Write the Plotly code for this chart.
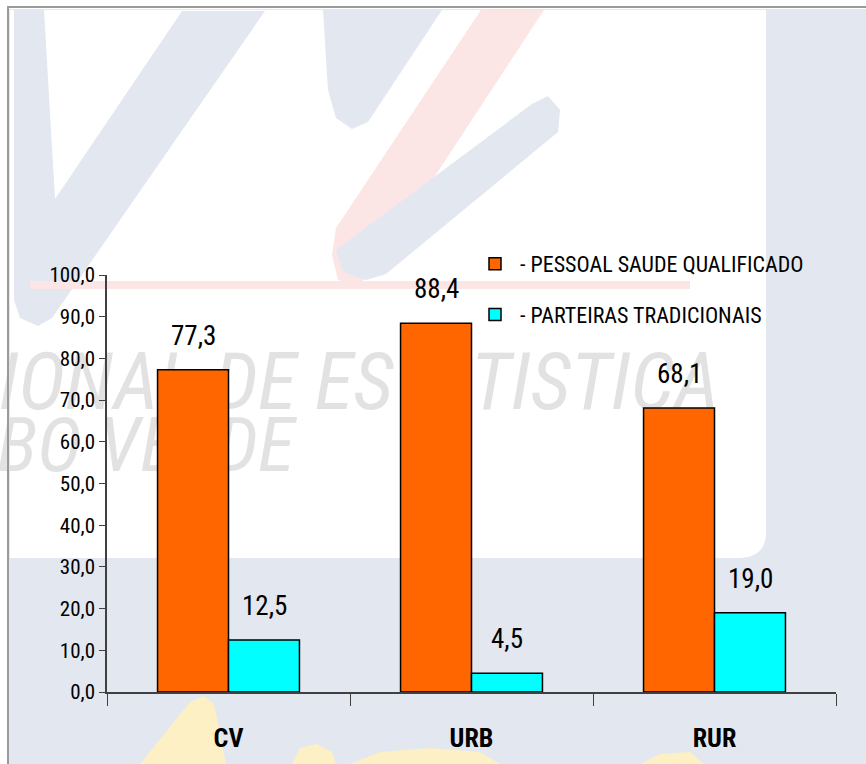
'''
    Bar chart: assistance at birth by type of assistant (CV / URB / RUR),
    drawn over a faint INE Cabo Verde style watermark.
'''

import plotly.graph_objects as go

categories = ['CV', 'URB', 'RUR']
pessoal_saude = [77.3, 88.4, 68.1]
parteiras = [12.5, 4.5, 19.0]
series_names = [' - PESSOAL SAUDE QUALIFICADO', ' - PARTEIRAS TRADICIONAIS']
y_ticks = [0, 10, 20, 30, 40, 50, 60, 70, 80, 90, 100]

FONT = 'Roboto Condensed, Liberation Sans Narrow, Arial Narrow, sans-serif'
W, H = 866, 764
L, R, T, B = 107, 30, 275, 72
BLUISH = '#e3e7f0'


def px(x):
    # pixel column -> paper x
    return (x - L) / (W - L - R)


def py(y):
    # pixel row -> paper y
    return (H - B - y) / (H - T - B)


def path(points):
    return 'M ' + ' L '.join(f'{px(x):.4f},{py(y):.4f}' for x, y in points) + ' Z'


def bg_shape(points, color):
    return dict(type='path', xref='paper', yref='paper', path=path(points),
                fillcolor=color, line=dict(width=0), layer='below')


def text_shape(text, x0, y0, x1, y1, size):
    return dict(type='rect', xref='paper', yref='paper',
                x0=px(x0), y0=py(y1), x1=px(x1), y1=py(y0),
                line=dict(width=0), fillcolor='rgba(0,0,0,0)', layer='below',
                label=dict(text=text, textposition='middle left', padding=0,
                           font=dict(family=FONT, size=size, color='#e2e2e2',
                                     style='italic', weight='normal')))


fig = go.Figure()
fig.add_trace(go.Bar(name=series_names[0], x=categories, y=pessoal_saude,
                     marker=dict(color='#ff6600', line=dict(color='black', width=1.5)),
                     legendgroup='a'))
fig.add_trace(go.Bar(name=series_names[1], x=categories, y=parteiras,
                     marker=dict(color='#00ffff', line=dict(color='black', width=1.5)),
                     legendgroup='b'))

# value labels above the bars
annotations = []
for values, shift in [(pessoal_saude, -35.5), (parteiras, 35.5)]:
    for cat, v in zip(categories, values):
        annotations.append(dict(x=cat, y=v, text=f'{v:.1f}'.replace('.', ','),
                                showarrow=False, xshift=shift, yshift=34,
                                font=dict(family=FONT, size=27, color='black')))

# watermark background
shapes = [
    dict(type='rect', xref='paper', yref='paper', x0=px(9), y0=py(770), x1=px(870), y1=py(9),
         fillcolor=BLUISH, line=dict(width=0), layer='below'),
    dict(type='path', xref='paper', yref='paper',
         path=(f'M {px(10):.4f},{py(10):.4f} L {px(766):.4f},{py(10):.4f} '
               f'L {px(766):.4f},{py(532):.4f} Q {px(766):.4f},{py(558):.4f} {px(738):.4f},{py(558):.4f} '
               f'L {px(10):.4f},{py(558):.4f} Z'),
         fillcolor='white', line=dict(width=0), layer='below'),
    bg_shape([(14, 10), (44, 10), (55, 199), (182, 11), (265, 11), (52, 318),
              (38, 326), (20, 318), (14, 300)], BLUISH),
    bg_shape([(323, 10), (442, 10), (368, 122), (352, 129), (336, 118), (328, 90)], BLUISH),
    bg_shape([(481, 10), (544, 10), (372, 272), (356, 287), (338, 280), (332, 255), (336, 228)],
             '#fbe5e5'),
    bg_shape([(532, 104), (548, 96), (560, 110), (558, 132), (386, 274), (366, 280),
              (343, 272), (336, 250)], BLUISH),
    dict(type='line', xref='paper', yref='paper', x0=px(30), y0=py(285), x1=px(690), y1=py(285),
         line=dict(color='#fbe5e5', width=8), layer='below'),
    bg_shape([(140, 764), (190, 702), (204, 696), (214, 704), (226, 764)], '#fdf0c4'),
    bg_shape([(292, 764), (300, 748), (316, 744), (332, 752), (336, 764)], '#fdf0c4'),
    bg_shape([(350, 764), (380, 752), (430, 748), (480, 752), (500, 764)], '#fdf0c4'),
    bg_shape([(640, 764), (660, 754), (690, 752), (704, 764)], '#fdf0c4'),
    text_shape('IONAL DE ESTATISTICA', -4, 345, 720, 407, 80),
    text_shape('BO VERDE', -6, 412, 340, 468, 76),
    dict(type='line', xref='paper', yref='paper', x0=px(8), y0=py(6), x1=px(8), y1=py(770),
         line=dict(color='#9a9a9a', width=2), layer='below'),
    dict(type='line', xref='paper', yref='paper', x0=px(7), y0=py(7), x1=px(870), y1=py(7),
         line=dict(color='#9a9a9a', width=2), layer='below'),
]

fig.update_layout(
    template='none',
    width=W, height=H, autosize=False,
    margin=dict(l=L, r=R, t=T, b=B, pad=0),
    paper_bgcolor='white', plot_bgcolor='rgba(0,0,0,0)',
    barmode='group', bargap=0.416, bargroupgap=0,
    separators=',.',
    font=dict(family=FONT, color='black'),
    showlegend=True,
    legend=dict(x=px(475), y=py(243), xanchor='left', yanchor='top',
                traceorder='grouped', tracegroupgap=19,
                bgcolor='rgba(0,0,0,0)', font=dict(family=FONT, size=22, color='black')),
    shapes=shapes,
    annotations=annotations,
)
fig.update_xaxes(showline=True, linecolor='#404040', linewidth=1.5, automargin=False,
                 ticks='outside', tickson='boundaries', ticklen=12, tickcolor='#404040',
                 tickfont=dict(family=FONT, size=26, color='black', weight='bold'),
                 ticklabelstandoff=22, showgrid=False, fixedrange=True)
fig.update_yaxes(range=[0, 100], tickvals=y_ticks, tickformat='.1f', automargin=False,
                 showline=True, linecolor='#404040', linewidth=1.5,
                 ticks='outside', ticklen=6, tickcolor='#404040',
                 tickfont=dict(family=FONT, size=21, color='black'),
                 showgrid=False, zeroline=False, fixedrange=True)

fig.write_html("out.html", config={'displayModeBar': False},
               post_script="document.body.style.margin='0';document.body.style.overflow='hidden';")
